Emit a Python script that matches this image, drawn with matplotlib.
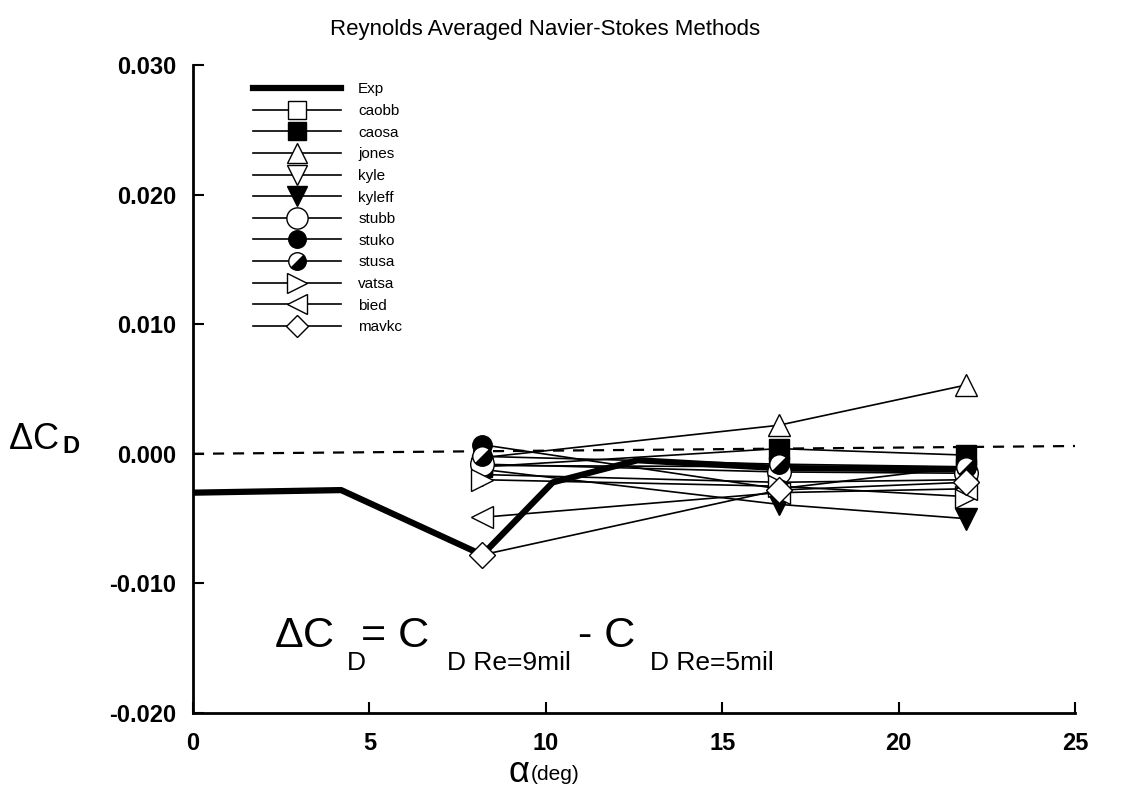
import matplotlib.pyplot as plt
from matplotlib.markers import MarkerStyle
from matplotlib.transforms import Affine2D

plt.rcParams['font.family'] = ['Liberation Sans', 'DejaVu Sans']
plt.rcParams['mathtext.fontset'] = 'custom'
plt.rcParams['mathtext.rm'] = 'Liberation Sans'
plt.rcParams['mathtext.it'] = 'Liberation Sans'

# experiment
exp_alpha = [0.0, 4.2, 8.2, 10.2, 12.6, 16.6, 21.9]
exp_dcd = [-0.0030, -0.0028, -0.0078, -0.0022, -0.0005, -0.0011, -0.0012]

# computations
alpha = [8.2, 16.6, 21.9]
caobb = [-0.0009, -0.0010, -0.0012]
caosa = [-0.0010, 0.0004, -0.0001]
jones = [-0.0003, 0.0022, 0.0053]
kyle = [-0.0016, -0.0022, -0.0020]
kyleff = [-0.0012, -0.0039, -0.0050]
stubb = [-0.0008, -0.0014, -0.0015]
stuko = [0.0007, -0.0027, -0.0010]
stusa = [-0.0002, -0.0008, -0.0010]
vatsa = [-0.0020, -0.0025, -0.0033]
bied = [-0.0049, -0.0030, -0.0027]
mavkc = [-0.0078, -0.0028, -0.0022]

# zero reference (scan is slightly tilted)
ref_x = [0, 25]
ref_y = [0.0, 0.0006]

fig = plt.figure(figsize=(11.27, 7.89), dpi=100)
ax = fig.add_axes([193/1127, 1 - 713/789, 882/1127, 648/789])

ax.plot(ref_x, ref_y, 'k--', lw=1.6, dashes=(5, 4))

half = MarkerStyle('o', fillstyle='right', transform=Affine2D().rotate_deg(-45))
styles = [
    ('caobb', caobb, 's', 'white', 14),
    ('caosa', caosa, 's', 'black', 14),
    ('jones', jones, '^', 'white', 16),
    ('kyle', kyle, 'v', 'white', 16),
    ('kyleff', kyleff, 'v', 'black', 16),
    ('stubb', stubb, 'o', 'white', 17),
    ('stuko', stuko, 'o', 'black', 14),
    ('stusa', stusa, half, 'black', 14),
    ('vatsa', vatsa, '>', 'white', 16),
    ('bied', bied, '<', 'white', 16),
    ('mavkc', mavkc, 'D', 'white', 13),
]

ax.plot(exp_alpha, exp_dcd, color='black', lw=4.5, label='Exp', zorder=3)
for name, vals, mk, fc, ms in styles:
    ax.plot(alpha, vals, color='black', lw=1.2, marker=mk, markersize=ms,
            markerfacecolor=fc, markerfacecoloralt='white', markeredgecolor='black',
            markeredgewidth=1.0, label=name, zorder=4)

ax.set_xlim(0, 25)
ax.set_ylim(-0.020, 0.030)
ax.set_xticks([0, 5, 10, 15, 20, 25])
ax.set_yticks([-0.020, -0.010, 0.000, 0.010, 0.020, 0.030])
ax.set_yticklabels(['-0.020', '-0.010', '0.000', '0.010', '0.020', '0.030'])
ax.tick_params(direction='in', length=8, width=1.5, labelsize=17)
ax.tick_params(axis='x', pad=14)
ax.tick_params(axis='y', pad=12)
for lab in ax.get_xticklabels() + ax.get_yticklabels():
    lab.set_fontweight('bold')
for s in ['top', 'right']:
    ax.spines[s].set_visible(False)
for s in ['left', 'bottom']:
    ax.spines[s].set_linewidth(2)

leg = ax.legend(loc='upper left', bbox_to_anchor=(0.059, 0.985), frameon=False,
                fontsize=11, handlelength=5.8, handletextpad=1.1, labelspacing=0.5,
                borderpad=0, markerscale=0.9)

fig.text(545/1127, 1 - 30/789, 'Reynolds Averaged Navier-Stokes Methods',
         ha='center', va='center', fontsize=16)
fig.text(8/1127, 1 - 440/789, r'$\Delta$C', ha='left', va='center', fontsize=26)
fig.text(62/1127, 1 - 447/789, 'D', ha='left', va='center', fontsize=17, fontweight='bold')
fig.text(530/1127, 1 - 772/789, r'$\alpha$', ha='right', va='center', fontsize=26)
fig.text(531/1127, 1 - 774/789, '(deg)', ha='left', va='center', fontsize=15)

base, sub = -0.0149, -0.0167
ax.text(2.3, base, r'$\Delta$C', fontsize=31, ha='left', va='baseline')
ax.text(4.35, sub, 'D', fontsize=19, ha='left', va='baseline')
ax.text(4.75, base, '= C', fontsize=31, ha='left', va='baseline')
ax.text(7.2, sub, 'D Re=9mil', fontsize=19, ha='left', va='baseline')
ax.text(10.9, base, '- C', fontsize=31, ha='left', va='baseline')
ax.text(12.95, sub, 'D Re=5mil', fontsize=19, ha='left', va='baseline')

fig.savefig('out.png', dpi=100)
